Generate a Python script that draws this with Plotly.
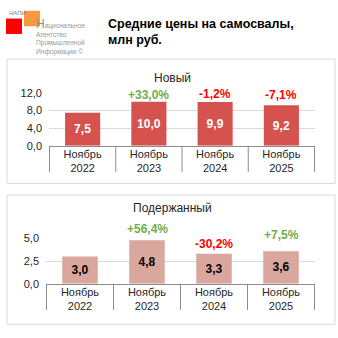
import plotly.graph_objects as go

W = H = 338

categories = ["Ноябрь<br>2022", "Ноябрь<br>2023", "Ноябрь<br>2024", "Ноябрь<br>2025"]
new_values = [7.5, 10.0, 9.9, 9.2]
new_changes = ["", "+33,0%", "-1,2%", "-7,1%"]
used_values = [3.0, 4.8, 3.3, 3.6]
used_changes = ["", "+56,4%", "-30,2%", "+7,5%"]
new_ticks = [0, 4, 8, 12]
used_ticks = [0, 2.5, 5]

# label offsets above bar tops (px) - styling only
new_shift = [0, 7, 8, 10]
used_shift = [0, 11, 10, 16]

GREEN = "#70AD47"
RED = "#FF0000"
FONT = "Liberation Sans"


def chg_color(s):
    return GREEN if s.startswith("+") else RED


def px(x):
    return x / W


def py(y):
    return 1 - y / H


fig = go.Figure()

fig.add_trace(go.Bar(
    x=categories, y=new_values, marker=dict(color="#D6524E", line=dict(width=0)),
    text=[f"{v:.1f}".replace(".", ",") for v in new_values],
    textposition="inside", insidetextanchor="middle",
    textfont=dict(family=FONT, size=12, color="white", weight="bold"),
    xaxis="x", yaxis="y", showlegend=False, hoverinfo="skip"))

fig.add_trace(go.Bar(
    x=categories, y=used_values, marker=dict(color="#D9A79D", line=dict(width=0)),
    text=[f"{v:.1f}".replace(".", ",") for v in used_values],
    textposition="inside", insidetextanchor="middle",
    textfont=dict(family=FONT, size=12, color="black", weight="bold"),
    xaxis="x2", yaxis="y2", showlegend=False, hoverinfo="skip"))

AXC = "#8C8C8C"
xcommon = dict(type="category", showline=True, linecolor=AXC, linewidth=1, ticks="",
               showgrid=False, tickfont=dict(family=FONT, size=11, color="#262626"),
               ticklabelstandoff=-2, fixedrange=True)
ycommon = dict(showline=False, ticks="", showgrid=True, gridcolor="#D9D9D9", gridwidth=1,
               zeroline=False, tickformat=".1f", ticklabelstandoff=6,
               tickfont=dict(family=FONT, size=11, color="#262626"), fixedrange=True)

fig.update_layout(
    width=W, height=H, autosize=False,
    margin=dict(l=0, r=0, t=0, b=0),
    paper_bgcolor="white", plot_bgcolor="white",
    separators=", ",
    bargap=0.47,
    font=dict(family=FONT),
    xaxis=dict(domain=[px(49), px(315)], anchor="y", **xcommon),
    yaxis=dict(domain=[py(145), py(90)], anchor="x", range=[0, 12], tickvals=new_ticks, **ycommon),
    xaxis2=dict(domain=[px(46), px(315)], anchor="y2", **xcommon),
    yaxis2=dict(domain=[py(288), py(241)], anchor="x2", range=[0, 5], tickvals=used_ticks, **ycommon),
)

shapes = []
# panel borders
shapes.append(dict(type="rect", xref="paper", yref="paper", x0=px(7), x1=px(335), y0=py(184), y1=py(55),
                   line=dict(color="#D9D9D9", width=1), fillcolor="rgba(0,0,0,0)", layer="below"))
shapes.append(dict(type="rect", xref="paper", yref="paper", x0=px(7), x1=px(335), y0=py(330), y1=py(196),
                   line=dict(color="#D9D9D9", width=1), fillcolor="rgba(0,0,0,0)", layer="below"))
# category boundary lines
for i in range(len(categories) + 1):
    shapes.append(dict(type="line", xref="x", yref="paper", x0=i - 0.5, x1=i - 0.5,
                       y0=py(172), y1=py(145), line=dict(color=AXC, width=1)))
    shapes.append(dict(type="line", xref="x2", yref="paper", x0=i - 0.5, x1=i - 0.5,
                       y0=py(315), y1=py(288), line=dict(color=AXC, width=1)))
# logo squares
shapes.append(dict(type="rect", xref="paper", yref="paper", x0=px(6), x1=px(22), y0=py(29), y1=py(13),
                   line=dict(width=0), fillcolor="#FF0000"))
shapes.append(dict(type="rect", xref="paper", yref="paper", x0=px(24), x1=px(40), y0=py(21), y1=py(5),
                   line=dict(width=0), fillcolor="#F79A3E"))
fig.update_layout(shapes=shapes)

ann = []
# change labels above bars
for cat, v, t, s in zip(categories, new_values, new_changes, new_shift):
    if t:
        ann.append(dict(text=t, x=cat, y=v, xref="x", yref="y", yanchor="middle", yshift=s,
                        showarrow=False, font=dict(family=FONT, size=12, color=chg_color(t), weight="bold")))
for cat, v, t, s in zip(categories, used_values, used_changes, used_shift):
    if t:
        ann.append(dict(text=t, x=cat, y=v, xref="x2", yref="y2", yanchor="middle", yshift=s,
                        showarrow=False, font=dict(family=FONT, size=12, color=chg_color(t), weight="bold")))

ann.append(dict(text="Новый", x=px(172), y=py(65), xref="paper", yref="paper", showarrow=False,
                font=dict(family=FONT, size=12, color="#262626")))
ann.append(dict(text="Подержанный", x=px(172), y=py(209), xref="paper", yref="paper", showarrow=False,
                font=dict(family=FONT, size=12, color="#262626")))
ann.append(dict(text="Средние цены на самосвалы,<br>млн руб.", x=px(106), y=py(27), xref="paper", yref="paper",
                xanchor="left", yanchor="middle", align="left", showarrow=False,
                font=dict(family=FONT, size=12.5, color="black", weight="bold")))
ann.append(dict(text="НАПИ", x=px(7), y=py(7), xref="paper", yref="paper", xanchor="left", yanchor="middle",
                showarrow=False, font=dict(family=FONT, size=6, color="#6F7F99")))
ann.append(dict(text="<span style='font-size:12px;color:#8C8C8C'>Н</span>ациональное<br>Агентство<br>"
                     "Промышленной<br>Информации ©",
                x=px(34), y=py(9), xref="paper", yref="paper", xanchor="left", yanchor="top", align="left",
                showarrow=False, font=dict(family=FONT, size=6.6, color="#9A9A9A")))
fig.update_layout(annotations=ann)

fig.write_html("out.html")
